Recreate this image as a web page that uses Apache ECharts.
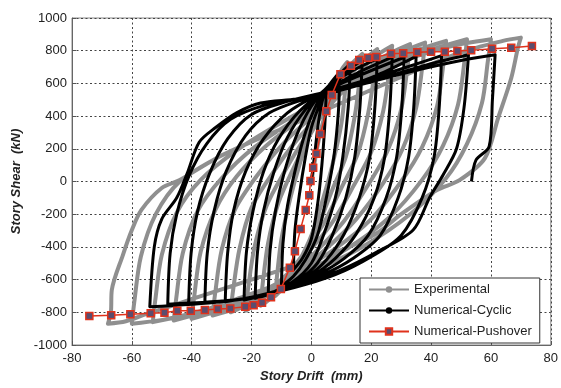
<!DOCTYPE html>
<html>
<head>
<meta charset="utf-8">
<script src="https://cdn.jsdelivr.net/npm/echarts@6/dist/echarts.min.js"></script>
<style>
  html, body { margin: 0; padding: 0; background: #fff; }
  #chart { width: 561px; height: 388px; }
</style>
</head>
<body>
<div id="chart"></div>
<script>
// drift (mm), shear (kN)
var pushover = [
  [-74.2,-822],[-66.9,-818],[-60.5,-812],[-53.7,-806],[-49.1,-802],[-44.8,-790],[-40.3,-790],
  [-35.6,-786],[-31.3,-780],[-27.1,-776],[-22.1,-766],[-19.3,-757],[-16.5,-741],[-13.5,-708],
  [-10.2,-657],[-7.2,-527],[-5.5,-427],[-3.6,-290],[-1.9,-174],[-0.7,-84],[-0.3,3],[0.6,84],
  [1.7,170],[3,290],[5,429],[6.8,529],[9.7,656],[13.2,708],[16,743],[19,757],[21.7,761],
  [26.6,782],[30.7,784],[35.4,790],[40,794],[44.6,794],[48.8,798],[53.4,802],[60.4,812],
  [66.8,818],[73.7,829]
];

// numerical cyclic: small cycles then large cycles
var cyclicSmall = [
  [0,0],[1,150],[2.5,380],[4,520],[5,560],
  [4.5,350],[3.5,100],[2,-150],[0,-350],[-3,-470],[-6,-540],
  [-5.5,-300],[-4,-80],[-2,150],[0,330],[3,480],[6,590],[9.5,670],
  [9,420],[7.5,150],[5,-100],[2,-330],[-2,-480],[-6,-580],[-10,-640],
  [-9.5,-380],[-8,-150],[-5,100],[-2,300],[2,480],[7,610],[13,720],
  [12.3,450],[10.5,150],[8,-100],[4,-330],[0,-500],[-6,-610],[-14.4,-690],
  [-13.8,-420],[-12,-180],[-9,60],[-5,280],[0,460],[6,590],[12,680],[17,740],
  [16.2,450],[14.5,150],[11.5,-100],[7,-330],[2,-500],[-4,-600],[-11,-670],[-18.8,-715],
  [-18,-430],[-16,-180],[-12.5,60],[-8,270],[-2,440],[5,570],[13,670],[22,750],
  [21.2,450],[19.5,150],[16,-100],[11,-320],[5,-480],[-2,-590],[-11,-670],[-22.5,-725],
  [-21.7,-430],[-19.5,-180],[-16,60],[-11,260],[-4,430],[5,560],[15,660],[27,760],
  [26.2,450],[24.5,150],[21,-100],[15,-320],[8,-470],[0,-580],[-12,-680],[-28.8,-735]
];
var cyclicLarge = [
  [-28,-440],[-26,-180],[-22,60],[-16,260],[-8,420],[2,530],[15,640],[31,760],
  [30.2,450],[28.5,150],[25,-100],[19,-330],[11,-470],[2,-570],[-10,-660],[-22,-715],[-35.6,-740],
  [-34.8,-440],[-32.5,-180],[-28.5,60],[-22,280],[-14,420],[-3,500],[10,570],[22,650],[35,765],
  [34.2,450],[32.5,150],[29,-100],[23,-330],[14,-470],[4,-570],[-8,-650],[-22,-715],[-41,-745],
  [-40.2,-440],[-38,-180],[-34,50],[-28,260],[-20,410],[-8,490],[5,550],[20,630],[32,700],[43.5,770],
  [42.7,450],[41,150],[37,-100],[30,-330],[20,-460],[8,-570],[-6,-650],[-24,-720],[-48,-750],
  [-47.2,-440],[-45,-200],[-41,30],[-35,230],[-27,380],[-15,470],[-3,510],[10,560],[25,640],[40,720],[52.5,775],
  [51,450],[48.5,200],[44,40],[39.6,-95],[34,-297],[22,-430],[10,-540],[-3,-620],[-15,-690],[-30,-735],[-54,-766],
  [-52.5,-400],[-50,-230],[-45,-100],[-41.5,50],[-37.5,240],[-32,330],[-25,420],[-17,480],[-5,505],[8,550],[20,610],[35,680],[50,740],[61.4,775],
  [60.5,500],[59.4,213],[55,131],[53.5,0]
];

// experimental: small cycles then large cycles
var expSmall = [
  [0,0],[3,300],[7,550],[10,680],[12,730],
  [11.5,600],[10,350],[7,100],[4,-100],[0,-330],[-5,-520],[-9,-640],[-12,-700],
  [-11.5,-580],[-10,-350],[-7,-100],[-4,100],[0,320],[5,500],[10,640],[14,730],[17,780],
  [16.3,650],[14.5,400],[11.5,150],[7,-50],[2,-280],[-4,-480],[-10,-640],[-14,-720],[-17,-760],
  [-16.3,-630],[-14.5,-380],[-11,-130],[-6,80],[0,300],[6,480],[12,630],[18,750],[22,810],
  [21.2,680],[19,420],[15.5,170],[10,-40],[4,-260],[-3,-450],[-10,-610],[-17,-730],[-22,-790],
  [-21.2,-660],[-19,-400],[-15,-150],[-9,60],[-2,270],[6,460],[14,630],[21,760],[27,830],
  [26.2,700],[24,430],[20,180],[14,-30],[7,-250],[-1,-430],[-10,-600],[-19,-730],[-27,-800],
  [-26.2,-670],[-24,-410],[-20,-160],[-13,50],[-5,250],[4,430],[14,610],[24,760],[33,840],
  [32.2,710],[30,440],[25.5,190],[19,-20],[11,-240],[2,-420],[-8,-590],[-20,-740],[-33,-820]
];
var expLarge = [
  [-32.2,-690],[-30,-420],[-25.5,-170],[-18,40],[-9,240],[1,410],[12,590],[25,750],[38,850],
  [37.2,720],[35,450],[30.5,200],[24,-10],[15,-230],[5,-410],[-6,-570],[-20,-720],[-40,-840],
  [-39.2,-710],[-37,-430],[-32,-170],[-25,30],[-15,220],[-3,390],[10,560],[26,740],[45,860],
  [44.2,730],[42,460],[37,210],[30,0],[20,-230],[8,-410],[-6,-570],[-24,-730],[-46,-850],
  [-45.2,-720],[-43,-440],[-38,-180],[-30,20],[-19,210],[-6,370],[9,540],[28,730],[52,870],
  [51.2,740],[49,470],[44,220],[37,10],[26,-220],[12,-410],[-4,-570],[-26,-740],[-53,-860],
  [-52.2,-730],[-50,-450],[-45,-190],[-37,10],[-25,190],[-11,350],[5,510],[27,710],[45,820],[60,870],
  [59,740],[57,480],[52,230],[45,20],[33,-200],[17,-400],[0,-550],[-22,-700],[-42,-820],[-60,-870],
  [-59.2,-740],[-57,-460],[-52,-200],[-44,0],[-31,150],[-21,235],[-10,320],[0,400],[15,520],[30,640],[50,790],[64,860],[70,880],
  [69,816],[66.8,633],[62.4,388],[58,143],[49.5,8],[42,-52],[30,-200],[22,-315],[10,-420],[0,-480],[-20,-600],[-40,-720],[-55,-810],[-62,-855],[-68,-870],
  [-67,-800],[-66.7,-664],[-63,-450],[-60,-297],[-56.8,-174],[-50,-40],[-44,9],[-31,150],[-21,235]
];

var xTicks = { min: -80, max: 80, step: 20 };
var yTicks = { min: -1000, max: 1000, step: 200 };

var chart = echarts.init(document.getElementById('chart'));
var gridLine = { show: true, lineStyle: { color: '#444', width: 1, type: [2, 2.5] } };
var option = {
  animation: false,
  backgroundColor: '#fff',
  textStyle: { fontFamily: 'Liberation Sans, Arial, sans-serif' },
  grid: { left: 72, right: 6, top: 18, bottom: 43, show: true, borderColor: '#888', borderWidth: 1 },
  xAxis: {
    type: 'value', min: xTicks.min, max: xTicks.max, interval: xTicks.step,
    name: 'Story Drift  (mm)', nameLocation: 'middle', nameGap: 24,
    nameTextStyle: { fontSize: 13, fontWeight: 'bold', fontStyle: 'italic', color: '#222' },
    axisLine: { onZero: false, lineStyle: { color: '#666' } },
    axisTick: { inside: true, length: 4, lineStyle: { color: '#555' } },
    axisLabel: { fontSize: 13, color: '#222', margin: 7, formatter: function (v) { return String(v); } },
    splitLine: gridLine
  },
  yAxis: {
    type: 'value', min: yTicks.min, max: yTicks.max, interval: yTicks.step,
    name: 'Story Shear  (kN)', nameLocation: 'middle', nameGap: 47, nameRotate: 90,
    nameTextStyle: { fontSize: 13, fontWeight: 'bold', fontStyle: 'italic', color: '#222' },
    axisLine: { onZero: false, lineStyle: { color: '#666' } },
    axisTick: { inside: true, length: 4, lineStyle: { color: '#555' } },
    axisLabel: { fontSize: 13, color: '#222', margin: 5, formatter: function (v) { return String(v); } },
    splitLine: gridLine
  },
  legend: {
    orient: 'vertical', left: 360, top: 278,
    padding: [4, 8], itemGap: 6, itemWidth: 40, itemHeight: 8,
    backgroundColor: '#fff', borderColor: '#333', borderWidth: 1,
    textStyle: { fontSize: 13, color: '#222', lineHeight: 15 },
    data: ['Experimental', 'Numerical-Cyclic', 'Numerical-Pushover']
  },
  series: [
    {
      name: 'Experimental', type: 'line', data: expSmall.concat(expLarge),
      smooth: 0.3, symbol: 'none',
      itemStyle: { color: '#8f8f8f' },
      lineStyle: { color: '#8f8f8f', width: 4, join: 'round' }
    },
    {
      name: 'Numerical-Cyclic', type: 'line', data: cyclicSmall.concat(cyclicLarge),
      smooth: 0.3, symbol: 'none',
      itemStyle: { color: '#000' },
      lineStyle: { color: '#000', width: 3, join: 'round' }
    },
    {
      name: 'Numerical-Pushover', type: 'line', data: pushover,
      symbol: 'rect', symbolSize: 7,
      itemStyle: { color: '#5b4d6e', borderColor: '#e0321c', borderWidth: 1.5 },
      lineStyle: { color: '#e0321c', width: 1.5 }
    }
  ]
};
chart.setOption(option);
</script>
</body>
</html>
